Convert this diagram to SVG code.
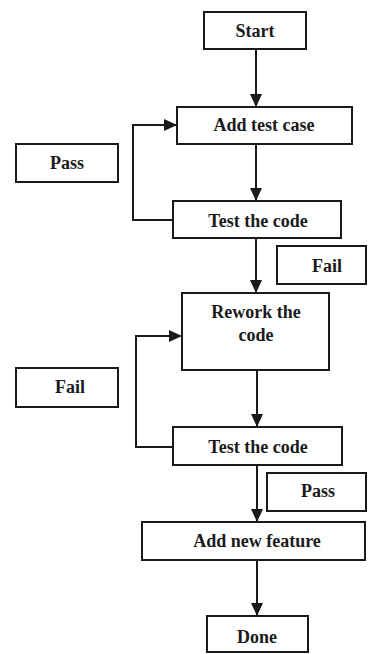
<svg xmlns="http://www.w3.org/2000/svg" width="368" height="654" viewBox="0 0 368 654">
  <style>
    .box { fill: #ffffff; stroke: #1a1a1a; stroke-width: 2; }
    .lbl { font-family: "Liberation Serif", "Times New Roman", serif; font-size: 18px; font-weight: bold; fill: #1a1a1a; text-anchor: middle; }
    .wire { fill: none; stroke: #1a1a1a; stroke-width: 2; }
  </style>
  <defs>
    <marker id="arrow" viewBox="0 0 13 12" refX="13" refY="6" markerWidth="13" markerHeight="12" markerUnits="userSpaceOnUse" orient="auto">
      <path d="M0,0 L13,6 L0,12 Z" fill="#1a1a1a"/>
    </marker>
  </defs>
  <rect width="368" height="654" fill="#ffffff"/>

  <g id="connectors">
    <line class="wire" x1="256" y1="49" x2="256" y2="107" marker-end="url(#arrow)"/>
    <line class="wire" x1="256" y1="144" x2="256" y2="201" marker-end="url(#arrow)"/>
    <polyline class="wire" points="173,220 133,220 133,125 177,125" marker-end="url(#arrow)"/>
    <line class="wire" x1="256" y1="238" x2="256" y2="293" marker-end="url(#arrow)"/>
    <line class="wire" x1="257" y1="370" x2="257" y2="427" marker-end="url(#arrow)"/>
    <polyline class="wire" points="173,447 136,447 136,336 182,336" marker-end="url(#arrow)"/>
    <line class="wire" x1="257" y1="465" x2="257" y2="522" marker-end="url(#arrow)"/>
    <line class="wire" x1="257" y1="560" x2="257" y2="616" marker-end="url(#arrow)"/>
  </g>

  <g id="start">
    <rect class="box" x="204" y="12" width="102" height="37"/>
    <text class="lbl" x="255" y="37">Start</text>
  </g>
  <g id="add-test-case">
    <rect class="box" x="177" y="107" width="175" height="37"/>
    <text class="lbl" x="264" y="131">Add test case</text>
  </g>
  <g id="pass-1">
    <rect class="box" x="16" y="144" width="102" height="38"/>
    <text class="lbl" x="67" y="169">Pass</text>
  </g>
  <g id="test-code-1">
    <rect class="box" x="173" y="201" width="168" height="37"/>
    <text class="lbl" x="258" y="227">Test the code</text>
  </g>
  <g id="fail-1">
    <rect class="box" x="277" y="246" width="89" height="38"/>
    <text class="lbl" x="327" y="272">Fail</text>
  </g>
  <g id="rework">
    <rect class="box" x="182" y="293" width="147" height="77"/>
    <text class="lbl" x="256" y="318">Rework the</text>
    <text class="lbl" x="256" y="341">code</text>
  </g>
  <g id="fail-2">
    <rect class="box" x="16" y="368" width="102" height="39"/>
    <text class="lbl" x="70" y="393">Fail</text>
  </g>
  <g id="test-code-2">
    <rect class="box" x="173" y="427" width="169" height="38"/>
    <text class="lbl" x="258" y="453">Test the code</text>
  </g>
  <g id="pass-2">
    <rect class="box" x="267" y="473" width="99" height="38"/>
    <text class="lbl" x="318" y="497">Pass</text>
  </g>
  <g id="add-feature">
    <rect class="box" x="142" y="522" width="223" height="38"/>
    <text class="lbl" x="257" y="547">Add new feature</text>
  </g>
  <g id="done">
    <rect class="box" x="207" y="616" width="101" height="36"/>
    <text class="lbl" x="257" y="643">Done</text>
  </g>
</svg>
